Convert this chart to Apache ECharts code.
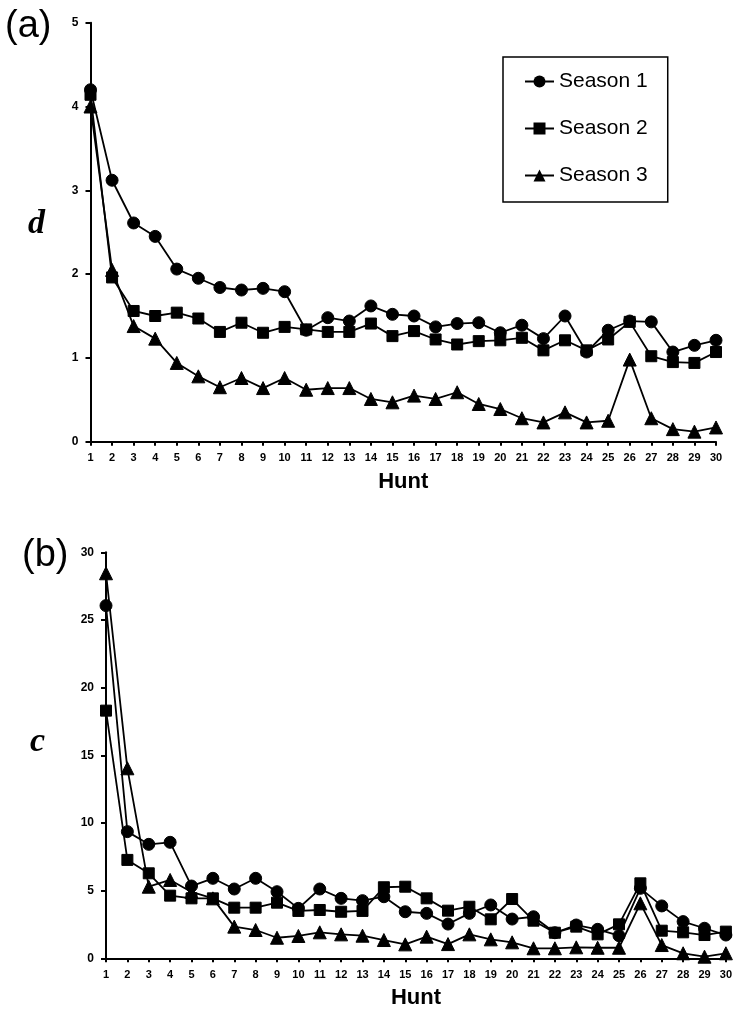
<!DOCTYPE html>
<html>
<head>
<meta charset="utf-8">
<script src="https://cdn.jsdelivr.net/npm/echarts@6/dist/echarts.min.js"></script>
<style>
html,body{margin:0;padding:0;background:#fff;}
#chart{width:735px;height:1022px;}
</style>
</head>
<body>
<div id="chart"></div>
<script>
const hunts = ['1','2','3','4','5','6','7','8','9','10','11','12','13','14','15','16','17','18','19','20','21','22','23','24','25','26','27','28','29','30'];
const seriesNames = ['Season 1', 'Season 2', 'Season 3'];

// Panel (a): d
const dSeason1 = [4.20,3.12,2.61,2.45,2.06,1.95,1.84,1.81,1.83,1.79,1.33,1.48,1.44,1.62,1.52,1.50,1.37,1.41,1.42,1.30,1.39,1.23,1.50,1.07,1.33,1.44,1.43,1.07,1.15,1.21];
const dSeason2 = [4.14,1.96,1.56,1.50,1.54,1.47,1.31,1.42,1.30,1.37,1.34,1.31,1.31,1.41,1.26,1.32,1.22,1.16,1.20,1.21,1.24,1.09,1.21,1.09,1.22,1.43,1.02,0.95,0.94,1.07];
const dSeason3 = [4.00,2.05,1.38,1.23,0.94,0.78,0.65,0.76,0.64,0.76,0.62,0.64,0.64,0.51,0.47,0.55,0.51,0.59,0.45,0.39,0.28,0.23,0.35,0.23,0.25,0.98,0.28,0.15,0.12,0.17];
const dTicks = [0,1,2,3,4,5];

// Panel (b): c
const cSeason1 = [26.06,9.36,8.42,8.57,5.34,5.91,5.12,5.91,4.92,3.69,5.12,4.43,4.26,4.55,3.44,3.32,2.53,3.32,3.94,2.90,3.07,1.89,2.46,2.14,1.67,5.17,3.87,2.71,2.22,1.72];
const cSeason2 = [18.30,7.27,6.28,4.63,4.43,4.43,3.74,3.74,4.11,3.50,3.57,3.44,3.50,5.25,5.29,4.43,3.52,3.81,2.88,4.38,2.78,1.89,2.34,1.77,2.51,5.54,2.04,1.92,1.72,1.97];
const cSeason3 = [28.45,14.04,5.29,5.79,4.90,4.43,2.34,2.09,1.52,1.65,1.92,1.77,1.67,1.35,1.03,1.60,1.05,1.77,1.40,1.18,0.74,0.74,0.81,0.78,0.78,4.06,0.98,0.37,0.12,0.37];
const cTicks = [0,5,10,15,20,25,30];

const symbols = ['circle', 'rect', 'triangle'];
const symbolSizes = [12, 11, 13];

const chart = echarts.init(document.getElementById('chart'));

function xAxisCfg(gridIndex) {
  return {
    type: 'category', gridIndex: gridIndex, data: hunts, boundaryGap: false,
    name: 'Hunt', nameLocation: 'middle', nameGap: 29,
    nameTextStyle: {fontFamily: 'Liberation Sans', fontWeight: 'bold', fontSize: 22, color: '#000'},
    axisLine: {lineStyle: {color: '#000', width: 2}},
    axisTick: {show: true, alignWithLabel: true, length: 4, inside: false, lineStyle: {color: '#000', width: 2}},
    axisLabel: {interval: 0, margin: 11, fontFamily: 'Liberation Sans', fontWeight: 'bold', fontSize: 11, color: '#000'},
    splitLine: {show: false}
  };
}
function yAxisCfg(gridIndex, ticks) {
  return {
    type: 'value', gridIndex: gridIndex, min: ticks[0], max: ticks[ticks.length - 1], interval: ticks[1] - ticks[0],
    axisLine: {show: true, lineStyle: {color: '#000', width: 2}},
    axisTick: {show: true, length: 5, lineStyle: {color: '#000', width: 2}},
    axisLabel: {margin: 12, fontFamily: 'Liberation Sans', fontWeight: 'bold', fontSize: 12, color: '#000'},
    splitLine: {show: false}
  };
}
function lineSeries(name, data, idx, axisIdx) {
  return {
    name: name, type: 'line', data: data, xAxisIndex: axisIdx, yAxisIndex: axisIdx,
    symbol: symbols[idx], symbolSize: symbolSizes[idx], showAllSymbol: true,
    lineStyle: {color: '#000', width: 1.8},
    itemStyle: {color: '#000', borderColor: '#000'},
    emphasis: {disabled: true},
    animation: false
  };
}

chart.setOption({
  backgroundColor: '#fff',
  animation: false,
  grid: [
    {left: 90.5, right: 19, top: 22.7, bottom: 580.3, containLabel: false},
    {left: 106, right: 8.3, top: 552.3, bottom: 63.7, containLabel: false}
  ],
  legend: {
    data: seriesNames, orient: 'vertical', left: 503, top: 57,
    itemWidth: 29, itemHeight: 15, itemGap: 26,
    padding: [14, 20, 16, 21],
    borderColor: '#000', borderWidth: 1.5,
    textStyle: {fontFamily: 'Liberation Sans', fontSize: 21, color: '#000', lineHeight: 21},
    selectedMode: false
  },
  xAxis: [xAxisCfg(0), xAxisCfg(1)],
  yAxis: [yAxisCfg(0, dTicks), yAxisCfg(1, cTicks)],
  series: [
    lineSeries(seriesNames[0], dSeason1, 0, 0),
    lineSeries(seriesNames[1], dSeason2, 1, 0),
    lineSeries(seriesNames[2], dSeason3, 2, 0),
    lineSeries(seriesNames[0], cSeason1, 0, 1),
    lineSeries(seriesNames[1], cSeason2, 1, 1),
    lineSeries(seriesNames[2], cSeason3, 2, 1)
  ],
  graphic: [
    {type: 'text', left: 5, top: 8, style: {text: '(a)', fontFamily: 'Liberation Sans', fontSize: 38, fill: '#000'}},
    {type: 'text', left: 22, top: 537, style: {text: '(b)', fontFamily: 'Liberation Sans', fontSize: 38, fill: '#000'}},
    {type: 'text', left: 28, top: 207, style: {text: 'd', fontFamily: 'Liberation Serif', fontStyle: 'italic', fontWeight: 'bold', fontSize: 34, fill: '#000'}},
    {type: 'text', left: 30, top: 725, style: {text: 'c', fontFamily: 'Liberation Serif', fontStyle: 'italic', fontWeight: 'bold', fontSize: 34, fill: '#000'}}
  ]
});
</script>
</body>
</html>
